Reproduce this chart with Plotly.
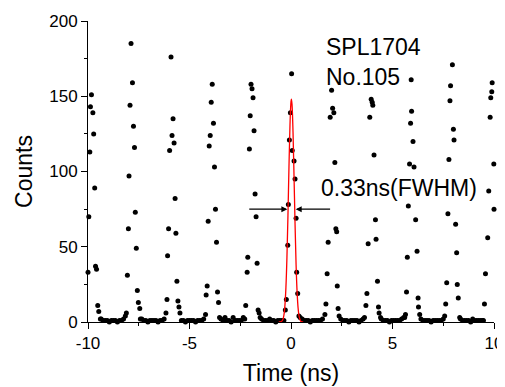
import plotly.graph_objects as go

# ---- data ----
# peak groups (time in ns, counts)
peak_time = [
    -10.0, -9.96, -9.91, -9.88, -9.83, -9.76, -9.72, -9.67, -9.63, -9.58, -9.52, -9.47, -9.39,
    -8.16, -8.11, -8.06, -8.01, -7.98, -7.93, -7.88, -7.81, -7.76, -7.71, -7.67, -7.62, -7.57, -7.52, -7.45, -7.42,
    -6.16, -6.11, -6.08, -6.03, -5.98, -5.91, -5.86, -5.81, -5.76, -5.71, -5.67, -5.62, -5.57, -5.52, -5.47,
    -4.21, -4.18, -4.13, -4.08, -4.03, -3.98, -3.93, -3.88, -3.82, -3.77, -3.72, -3.67, -3.62, -3.57, -3.52,
    -2.23, -2.16, -2.13, -2.05, -2.01, -1.97, -1.92, -1.87, -1.82, -1.77, -1.72, -1.67, -1.62, -1.57, -1.52,
    -0.28, -0.23, -0.16, -0.13, -0.08, -0.03, 0.03, 0.06, 0.15, 0.20, 0.25, 0.28, 0.33, 0.39,
    1.67, 1.72, 1.78, 1.83, 1.93, 2.00, 2.05, 2.11, 2.16, 2.21, 2.25, 2.28, 2.32, 2.37,
    3.69, 3.74, 3.80, 3.88, 3.95, 4.00, 4.03, 4.09, 4.16, 4.19, 4.26, 4.31, 4.34, 4.41,
    5.60, 5.64, 5.69, 5.73, 5.78, 5.84, 5.89, 5.92, 5.94, 6.01, 6.06, 6.14, 6.21, 6.26, 6.28, 6.34,
    7.57, 7.62, 7.67, 7.73, 7.78, 7.83, 7.86, 7.95, 8.00, 8.03, 8.11, 8.16, 8.19, 8.24, 8.31,
    9.48, 9.53, 9.58, 9.69, 9.74, 9.81, 9.84, 9.89, 9.91, 9.99, 10.0,
]
peak_counts = [
    33, 70, 113, 143, 151, 139, 125, 89, 37, 35, 11, 7, 2,
    4, 6, 31, 62, 97, 144, 185, 159, 130, 116, 73, 49, 21, 13, 9, 2,
    6, 15, 44, 62, 114, 176, 124, 135, 119, 82, 59, 27, 14, 10, 6,
    5, 18, 24, 67, 117, 124, 146, 158, 132, 103, 75, 53, 20, 13, 3,
    11, 33, 43, 115, 137, 158, 155, 149, 127, 85, 70, 39, 8, 6, 3,
    8, 15, 51, 78, 121, 139, 165, 114, 107, 95, 69, 33, 19, 4,
    5, 12, 32, 53, 136, 154, 142, 139, 106, 62, 60, 24, 9, 4,
    11, 19, 52, 136, 148, 146, 144, 111, 68, 55, 27, 10, 6, 3,
    3, 5, 20, 43, 77, 105, 132, 161, 140, 120, 103, 68, 47, 16, 10, 5,
    4, 12, 26, 72, 108, 147, 157, 171, 128, 121, 65, 46, 25, 16, 3,
    1, 12, 32, 56, 87, 136, 149, 153, 159, 105, 75,
]

# baseline stretches between the peaks
base_time = [
    -9.35, -9.25, -9.15, -9.05, -8.95, -8.85, -8.75, -8.65, -8.55, -8.45, -8.35, -8.25,
    -7.35, -7.25, -7.15, -7.05, -6.95, -6.85, -6.75, -6.65, -6.55, -6.45, -6.35, -6.25,
    -5.40, -5.30, -5.20, -5.10, -5.00, -4.90, -4.80, -4.70, -4.60, -4.50, -4.40, -4.30,
    -3.45, -3.35, -3.25, -3.15, -3.05, -2.95, -2.85, -2.75, -2.65, -2.55, -2.45, -2.35, -2.28,
    -1.45, -1.35, -1.25, -1.15, -1.05, -0.95, -0.85, -0.75, -0.65, -0.55, -0.45, -0.35,
    0.45, 0.55, 0.65, 0.75, 0.85, 0.95, 1.05, 1.15, 1.25, 1.35, 1.45, 1.55,
    2.45, 2.55, 2.65, 2.75, 2.85, 2.95, 3.05, 3.15, 3.25, 3.35, 3.45, 3.55, 3.62,
    4.45, 4.55, 4.65, 4.75, 4.85, 4.95, 5.05, 5.15, 5.25, 5.35, 5.45, 5.55,
    6.40, 6.50, 6.60, 6.70, 6.80, 6.90, 7.00, 7.10, 7.20, 7.30, 7.40, 7.50,
    8.35, 8.45, 8.55, 8.65, 8.75, 8.85, 8.95, 9.05, 9.15, 9.25, 9.35, 9.43,
]
base_counts = [
    2, 1, 1, 1, 0, 1, 1, 1, 0, 1, 1, 2,
    2, 1, 1, 0, 1, 1, 1, 1, 0, 1, 1, 2,
    1, 1, 0, 1, 1, 1, 1, 0, 1, 1, 1, 2,
    2, 1, 3, 1, 1, 0, 3, 1, 1, 1, 1, 3, 2,
    2, 1, 1, 1, 2, 1, 1, 0, 1, 1, 1, 1,
    3, 2, 1, 1, 1, 0, 1, 1, 1, 1, 1, 2,
    2, 1, 1, 1, 0, 1, 1, 1, 1, 0, 1, 2, 3,
    2, 1, 1, 1, 0, 1, 1, 1, 1, 1, 2, 3,
    2, 1, 1, 1, 1, 0, 1, 1, 1, 1, 1, 2,
    2, 1, 1, 1, 1, 0, 2, 1, 1, 1, 1, 1,
]

# red Gaussian fit curve
fit_time = [-0.60, -0.50, -0.45, -0.40, -0.35, -0.30, -0.25, -0.20, -0.15, -0.10, -0.05, 0.00, 0.02,
            0.05, 0.10, 0.15, 0.20, 0.25, 0.30, 0.35, 0.40, 0.45, 0.50, 0.60]
fit_counts = [0, 0.2, 0.6, 1.6, 4.5, 10.9, 23, 43, 71, 103, 131, 146.5, 148,
              144.6, 126, 96, 65, 38, 20, 9.2, 3.7, 1.3, 0.3, 0]

x_ticks = [-10, -5, 0, 5, 10]
x_tick_labels = ["-10", "-5", "0", "5", "10"]
y_ticks = [0, 50, 100, 150, 200]

FONT = "Liberation Sans, Arial, sans-serif"

fig = go.Figure()
fig.add_trace(go.Scatter(x=base_time, y=base_counts, mode="markers",
                         marker=dict(color="black", size=5), cliponaxis=False,
                         showlegend=False, hoverinfo="skip"))
fig.add_trace(go.Scatter(x=peak_time, y=peak_counts, mode="markers",
                         marker=dict(color="black", size=5), cliponaxis=False,
                         showlegend=False))
fig.add_trace(go.Scatter(x=fit_time, y=fit_counts, mode="lines", line_shape="spline",
                         line=dict(color="red", width=1.3), showlegend=False))

# the page adds an 8 px body margin, so the figure is sized to fit the window
fig.update_layout(
    width=497, height=379, autosize=False,
    margin=dict(l=80, r=11, t=13, b=65, pad=0, autoexpand=False),
    paper_bgcolor="white", plot_bgcolor="white",
    font=dict(family=FONT, color="black", size=17),
    xaxis=dict(range=[-10, 10], tickvals=x_ticks, ticktext=x_tick_labels,
               ticks="outside", ticklen=6,
               tickwidth=1, tickcolor="black", showline=True, linecolor="black",
               linewidth=1, showgrid=False, zeroline=False, automargin=False,
               minor=dict(dtick=2.5, tick0=0, ticks="outside", ticklen=3, tickcolor="black"),
               tickfont=dict(size=17),
               title=dict(text="Time (ns)", font=dict(size=23), standoff=12)),
    yaxis=dict(range=[0, 200], tickvals=y_ticks, ticks="outside", ticklen=6,
               tickwidth=1, tickcolor="black", showline=True, linecolor="black",
               linewidth=1, showgrid=False, zeroline=False, automargin=False,
               minor=dict(dtick=25, tick0=0, ticks="outside", ticklen=3, tickcolor="black"),
               tickfont=dict(size=17),
               title=dict(text="Counts", font=dict(size=23), standoff=10)),
)

fig.add_annotation(x=1.64, y=182.5, xref="x", yref="y", text="SPL1704", showarrow=False,
                   xanchor="left", yanchor="middle", font=dict(size=23, family=FONT))
fig.add_annotation(x=1.64, y=162.8, xref="x", yref="y", text="No.105", showarrow=False,
                   xanchor="left", yanchor="middle", font=dict(size=23, family=FONT))
fig.add_annotation(x=1.40, y=89.3, xref="x", yref="y", text="0.33ns(FWHM)", showarrow=False,
                   xanchor="left", yanchor="middle", font=dict(size=23, family=FONT))
# FWHM arrows
fig.add_annotation(x=-0.18, y=75, ax=-2.13, ay=75, xref="x", yref="y", axref="x", ayref="y",
                   text="", showarrow=True, arrowhead=2, arrowsize=1, arrowwidth=1.2,
                   arrowcolor="black", standoff=0, startstandoff=0)
fig.add_annotation(x=0.23, y=75, ax=2.0, ay=75, xref="x", yref="y", axref="x", ayref="y",
                   text="", showarrow=True, arrowhead=2, arrowsize=1, arrowwidth=1.2,
                   arrowcolor="black", standoff=0, startstandoff=0)

fig.write_html("out.html")
